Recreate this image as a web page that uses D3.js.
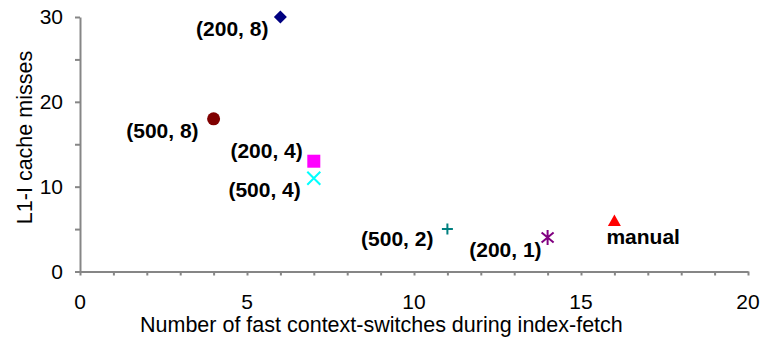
<!DOCTYPE html>
<html>
<head>
<meta charset="utf-8">
<script src="https://cdn.jsdelivr.net/npm/d3@7"></script>
<style>
  body { margin: 0; background: #fff; }
  svg { display: block; font-family: Arial, "Liberation Sans", sans-serif; }
</style>
</head>
<body>
<div id="chart"></div>
<script>
// values
const labels = ["(200, 8)", "(500, 8)", "(200, 4)", "(500, 4)", "(500, 2)", "(200, 1)", "manual"];
const switches = [6, 4, 7, 7, 11, 14, 16];
const misses = [30, 18, 13, 11, 5, 4, 6];
const shapes = ["diamond", "circle", "square", "cross", "plus", "star", "triangle"];
const colors = ["#000080", "#800000", "#ff00ff", "#00ffff", "#008080", "#800080", "#ff0000"];
// label placement relative to the marker (dx to text end/start, dy to baseline)
const labelDx = [-12, -15, -11, -13, -14, -6, -8];
const labelDy = [19, 19, -3, 18.5, 17, 19.5, 23];
const labelAnchor = ["end", "end", "end", "end", "end", "end", "start"];

const xTicks = [0, 5, 10, 15, 20];
const yTicks = [0, 10, 20, 30];

const width = 763, height = 341;
const margin = {top: 17, right: 15, bottom: 70, left: 80};

const data = labels.map((label, i) => ({
  label, x: switches[i], y: misses[i], shape: shapes[i], color: colors[i],
  dx: labelDx[i], dy: labelDy[i], anchor: labelAnchor[i]
}));

const xScale = d3.scaleLinear()
  .domain([0, 20])
  .range([margin.left, width - margin.right]);
const yScale = d3.scaleLinear()
  .domain([0, 30])
  .range([height - margin.bottom + 0.5, margin.top]);

const svg = d3.select("#chart").append("svg")
  .attr("width", width)
  .attr("height", height)
  .attr("viewBox", [0, 0, width, height]);

const axisColor = "#868686";

// minor ticks every 1 on x, every 5 on y
const gx = svg.append("g")
  .attr("transform", `translate(0,${yScale(0)})`)
  .call(d3.axisBottom(xScale).ticks(20).tickSize(4).tickFormat("").tickSizeOuter(0));
const gy = svg.append("g")
  .attr("transform", `translate(${xScale(0)},0)`)
  .call(d3.axisLeft(yScale).tickValues(d3.range(0, 31, 5)).tickSize(5).tickFormat("").tickSizeOuter(0));
[gx, gy].forEach(g => {
  g.selectAll("line, path").attr("stroke", axisColor).attr("stroke-width", 2);
});

svg.append("g")
  .selectAll("text")
  .data(xTicks)
  .join("text")
    .attr("x", d => xScale(d))
    .attr("y", yScale(0) + 37)
    .attr("text-anchor", "middle")
    .attr("font-size", 21)
    .text(d => d);

svg.append("g")
  .selectAll("text")
  .data(yTicks)
  .join("text")
    .attr("x", xScale(0) - 17)
    .attr("y", d => yScale(d) + 7)
    .attr("text-anchor", "end")
    .attr("font-size", 21)
    .text(d => d);

svg.append("text")
  .attr("x", 140)
  .attr("y", height - 9)
  .attr("text-anchor", "start")
  .attr("font-size", 21.5)
  .text("Number of fast context-switches during index-fetch");

svg.append("text")
  .attr("transform", `translate(32,137.5) rotate(-90)`)
  .attr("text-anchor", "middle")
  .attr("font-size", 21.5)
  .text("L1-I cache misses");

// marker outlines, centred on the point
const shapePath = {
  diamond: "M0,-6.5L6.5,0L0,6.5L-6.5,0Z",
  square: "M-6.5,-6.5H6.5V6.5H-6.5Z",
  triangle: "M0,-6L6.5,5.5H-6.5Z",
  cross: "M-6.5,-6.5L6.5,6.5M-6.5,6.5L6.5,-6.5",
  plus: "M-5.5,0H5.5M0,-5.5V5.5",
  star: "M-6,-5L6,5M-6,5L6,-5M0,-7.5V7.5"
};
const filled = {diamond: true, square: true, triangle: true, circle: true};

const marks = svg.append("g")
  .selectAll("g")
  .data(data)
  .join("g")
    .attr("transform", d => `translate(${xScale(d.x)},${yScale(d.y)})`);

marks.filter(d => d.shape === "circle")
  .append("circle")
    .attr("r", 6.5)
    .attr("fill", d => d.color);

marks.filter(d => d.shape !== "circle")
  .append("path")
    .attr("d", d => shapePath[d.shape])
    .attr("fill", d => filled[d.shape] ? d.color : "none")
    .attr("stroke", d => filled[d.shape] ? "none" : d.color)
    .attr("stroke-width", 2);

marks.append("text")
  .attr("x", d => d.dx)
  .attr("y", d => d.dy)
  .attr("text-anchor", d => d.anchor)
  .attr("font-size", 21)
  .attr("font-weight", "bold")
  .text(d => d.label);
</script>
</body>
</html>
